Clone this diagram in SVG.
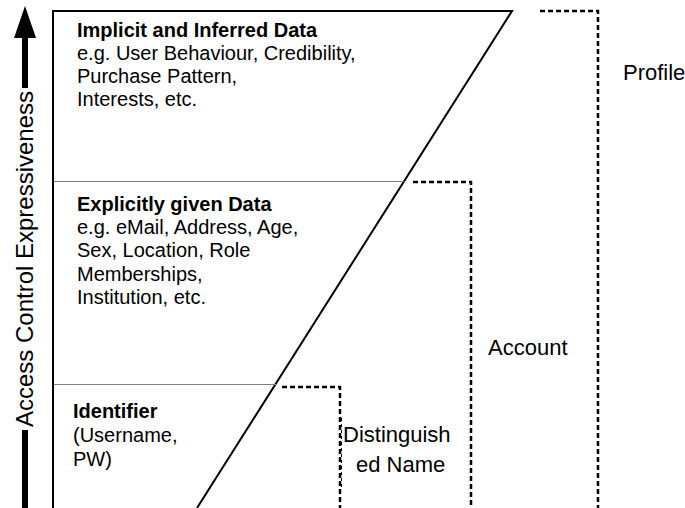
<svg xmlns="http://www.w3.org/2000/svg" width="685" height="508" viewBox="0 0 685 508">
<style>
text{font-family:"Liberation Sans",Arial,sans-serif;fill:#000}
.t{font-size:20px}
.b{font-size:20px;font-weight:bold}
.l{font-size:22px}
.solid{fill:none;stroke:#000;stroke-width:2}
.thin{fill:none;stroke:#808080;stroke-width:1}
.dash{fill:none;stroke:#000;stroke-width:2.5;stroke-dasharray:5,3}
.dthin{fill:none;stroke:#000;stroke-width:1;stroke-dasharray:3,3}
</style>
<rect width="685" height="508" fill="#fff"/>
<g id="axis">
<polygon points="25,6 36,38 14,38" fill="#000"/>
<line x1="25" y1="37" x2="25" y2="88" stroke="#000" stroke-width="6"/>
<line x1="25" y1="430" x2="25" y2="508" stroke="#000" stroke-width="6"/>
<text x="33" y="259" font-size="24" text-anchor="middle" transform="rotate(-90 33 259)" style="font-size:24px">Access Control Expressiveness</text>
</g>
<g id="frame">
<polyline class="solid" points="53,508 53,11 512,11 197,508"/>
</g>
<g id="connectors">
<line class="thin" x1="54" y1="181.5" x2="404" y2="181.5"/>
<line class="thin" x1="54" y1="384.5" x2="276" y2="384.5"/>
</g>
<g id="implicit">
<text class="b" x="77" y="37">Implicit and Inferred Data</text>
<text class="t" x="77" y="60">e.g. User Behaviour, Credibility,</text>
<text class="t" x="77" y="83">Purchase Pattern,</text>
<text class="t" x="77" y="106">Interests, etc.</text>
</g>
<g id="explicit">
<text class="b" x="77" y="211">Explicitly given Data</text>
<text class="t" x="77" y="234">e.g. eMail, Address, Age,</text>
<text class="t" x="77" y="257">Sex, Location, Role</text>
<text class="t" x="77" y="281">Memberships,</text>
<text class="t" x="77" y="304">Institution, etc.</text>
</g>
<g id="identifier">
<text class="b" x="73" y="418">Identifier</text>
<text class="t" x="73" y="442">(Username,</text>
<text class="t" x="73" y="466">PW)</text>
</g>
<g id="profile">
<polyline class="dash" points="540,11 598,11 598,508"/>
<text class="l" x="623" y="80">Profile</text>
</g>
<g id="account">
<polyline class="dash" points="413,182 471,182 471,508"/>
<text class="l" x="488" y="355">Account</text>
</g>
<g id="distinguished-name">
<polyline class="dash" points="282,387 340,387 340,508"/>
<line class="dthin" x1="341.5" y1="418" x2="341.5" y2="490"/>
<text class="l" x="343" y="442">Distinguish</text>
<text class="l" x="356" y="472">ed Name</text>
</g>
</svg>
